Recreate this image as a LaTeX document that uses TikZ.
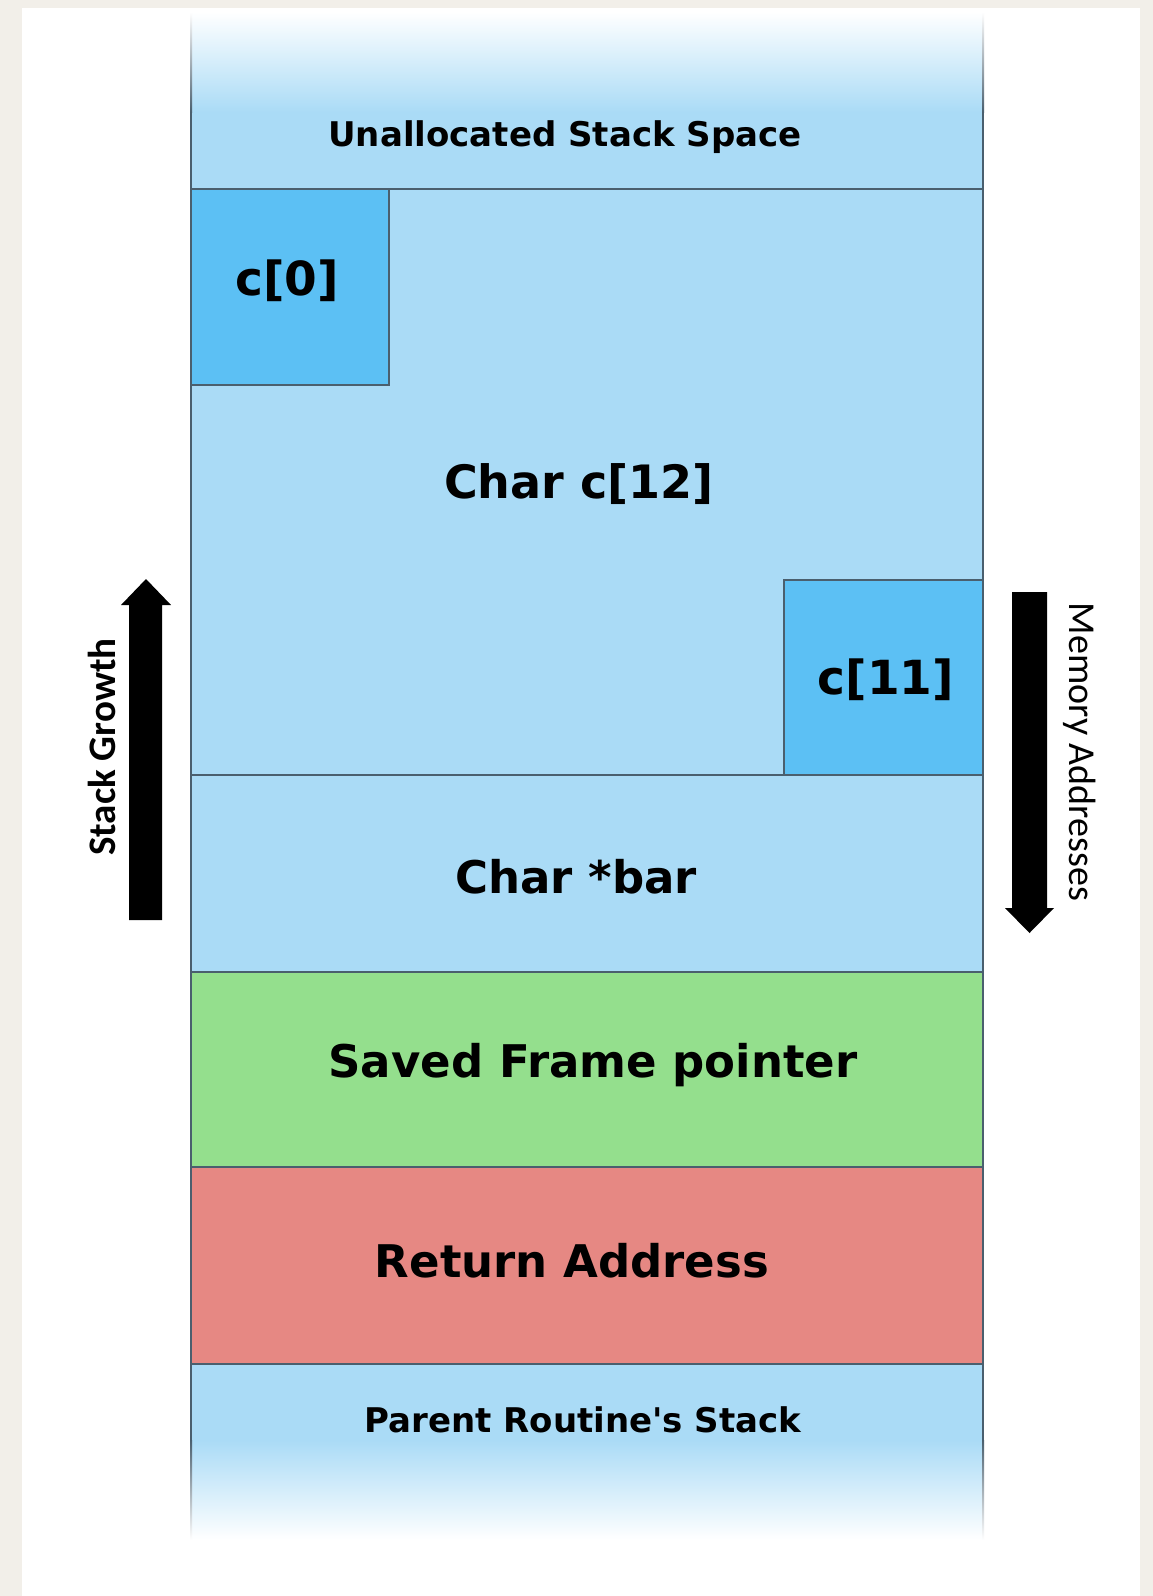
\documentclass[tikz,border=0pt]{standalone}
\usepackage{fontspec}
\setmainfont{DejaVu Sans}[Ligatures=TeXOff]
\newfontfamily\sidefont{Carlito}

\definecolor{paper}{HTML}{F2EFE9}
\definecolor{stackblue}{HTML}{AADBF6}
\definecolor{cellblue}{HTML}{5CC0F4}
\definecolor{framegreen}{HTML}{94DF8D}
\definecolor{retred}{HTML}{E68883}
\definecolor{edge}{HTML}{4A5F6E}

\tikzset{
  divider/.style={draw=edge, line width=2pt},
  biglabel/.style={font=\bfseries\fontsize{45}{54}\selectfont, inner sep=0pt},
  celllabel/.style={font=\bfseries\fontsize{47}{56}\selectfont, inner sep=0pt},
  smalllabel/.style={font=\bfseries\fontsize{34}{41}\selectfont, inner sep=0pt},
  sidelabel/.style={font=\sidefont\fontsize{38}{46}\selectfont, inner sep=0pt},
}

\begin{document}
\begin{tikzpicture}[x=1pt, y=-1pt]
  \useasboundingbox (0,0) rectangle (1153,1596);
  \fill[paper] (0,0) rectangle (1153,1596);
  \fill[white] (22,8) rectangle (1140,1596);

  % Frame background, faded at both ends
  \shade[top color=white, bottom color=stackblue] (191,12) rectangle (983,112);
  \fill[stackblue] (191,112) rectangle (983,775);
  \fill[stackblue] (191,775) rectangle (983,972);
  \fill[framegreen] (191,972) rectangle (983,1167);
  \fill[retred] (191,1167) rectangle (983,1364);
  \fill[stackblue] (191,1364) rectangle (983,1440);
  \shade[top color=stackblue, bottom color=white] (191,1440) rectangle (983,1540);

  % Array cells
  \filldraw[fill=cellblue, divider] (191,189) rectangle (389,385);
  \filldraw[fill=cellblue, divider] (784,580) rectangle (983,775);

  % Dividers
  \foreach \y in {189,775,972,1167,1364}
    \draw[divider] (191,\y) -- (983,\y);

  % Sides
  \draw[divider] (191,112) -- (191,1440);
  \draw[divider] (983,112) -- (983,1440);
  \shade[top color=white, bottom color=edge] (190,12) rectangle (192,112);
  \shade[top color=white, bottom color=edge] (982,12) rectangle (984,112);
  \shade[top color=edge, bottom color=white] (190,1440) rectangle (192,1540);
  \shade[top color=edge, bottom color=white] (982,1440) rectangle (984,1540);

  \node[smalllabel] (unalloc) at (565,137)  {Unallocated Stack Space};
  \node[celllabel]  (first)   at (287,281)  {c[0]};
  \node[biglabel, font=\bfseries\fontsize{46}{55}\selectfont]
                    (array)   at (579,484)  {Char c[12]};
  \node[celllabel]  (last)    at (886,680)  {c[11]};
  \node[biglabel]   (bar)     at (576,877)  {Char *bar};
  \node[biglabel]   (sfp)     at (593,1065) {Saved Frame pointer};
  \node[biglabel]   (ret)     at (572,1261) {Return Address};
  \node[smalllabel] (parent)  at (583,1420) {Parent Routine's Stack};

  % Growth arrows
  \fill[black] (129,920) -- (129,605) -- (121,605) -- (146,579)
    -- (171,605) -- (162,605) -- (162,920) -- cycle;
  \fill[black] (1012,592) -- (1012,908) -- (1005,908) -- (1029.5,933)
    -- (1054,908) -- (1047,908) -- (1047,592) -- cycle;

  \node[sidelabel, font=\sidefont\bfseries\fontsize{39}{46}\selectfont, rotate=90]
    (growth) at (102,747) {Stack Growth};
  \node[sidelabel, rotate=-90] (addr) at (1080,752) {Memory Addresses};

\end{tikzpicture}
\end{document}
